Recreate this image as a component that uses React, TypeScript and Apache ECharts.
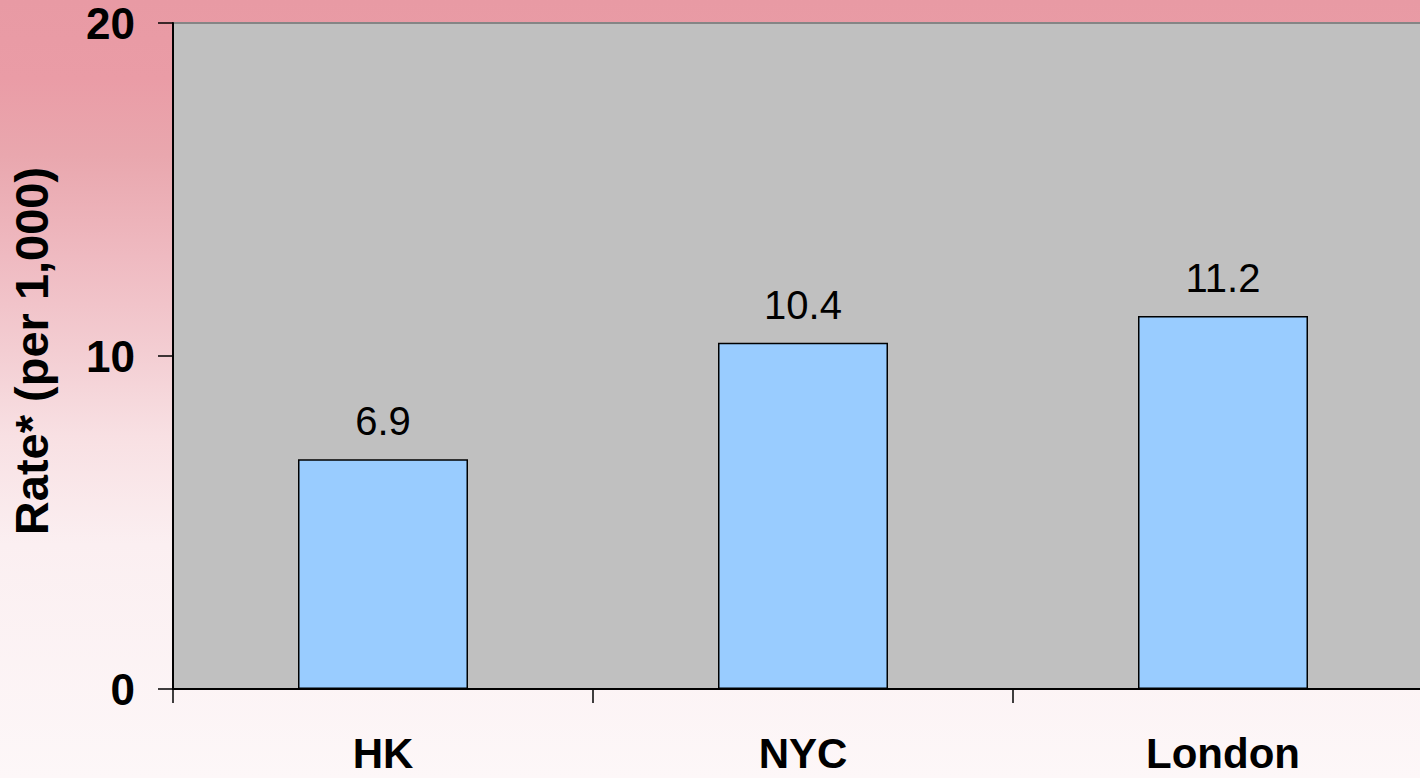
import React, { useEffect, useRef } from "react";
import * as echarts from "echarts";

const categories = ["HK", "NYC", "London"];
const rates = [6.9, 10.4, 11.2];
const yTicks = { min: 0, max: 20, interval: 10 };
const yTitle = "Rate* (per 1,000)";

const FONT = "'Liberation Sans', Arial, Helvetica, sans-serif";

export default function App() {
  const ref = useRef<HTMLDivElement>(null);
  useEffect(() => {
    document.body.style.margin = "0";
    document.body.style.overflow = "hidden";
    document.documentElement.style.overflow = "hidden";
    const chart = echarts.init(ref.current!, null, { renderer: "svg" });
    chart.setOption({
      animation: false,
      backgroundColor: {
        type: "linear",
        x: 0,
        y: 0,
        x2: 0,
        y2: 1,
        colorStops: [
          { offset: 0, color: "#e89aa4" },
          { offset: 0.1, color: "#ea9ca6" },
          { offset: 0.2, color: "#e9a7ae" },
          { offset: 0.33, color: "#efbac1" },
          { offset: 0.45, color: "#f3cdd2" },
          { offset: 0.56, color: "#f8e0e3" },
          { offset: 0.7, color: "#fbeff1" },
          { offset: 1, color: "#fdf7f8" },
        ],
      },
      grid: {
        left: 173,
        top: 23,
        width: 1260,
        height: 666,
        show: true,
        backgroundColor: "#c0c0c0",
        borderColor: "#858585",
        borderWidth: 2,
        containLabel: false,
      },
      xAxis: {
        type: "category",
        data: categories,
        axisLine: { show: true, lineStyle: { color: "#000", width: 2 } },
        axisTick: { show: true, length: 14, alignWithLabel: false, lineStyle: { color: "#000", width: 1.5 } },
        axisLabel: {
          color: "#000",
          fontFamily: FONT,
          fontWeight: "bold",
          fontSize: 42,
          lineHeight: 34,
          margin: 47,
        },
        splitLine: { show: false },
      },
      yAxis: {
        type: "value",
        min: yTicks.min,
        max: yTicks.max,
        interval: yTicks.interval,
        name: yTitle,
        nameLocation: "middle",
        nameGap: 118,
        nameRotate: 90,
        nameTextStyle: {
          color: "#000",
          fontFamily: FONT,
          fontWeight: "bold",
          fontSize: 47,
          padding: [0, 0, 0, 10],
        },
        axisLine: { show: true, lineStyle: { color: "#000", width: 2 } },
        axisTick: { show: true, length: 15, lineStyle: { color: "#000", width: 1.5 } },
        axisLabel: {
          color: "#000",
          fontFamily: FONT,
          fontWeight: "bold",
          fontSize: 44,
          margin: 38,
        },
        splitLine: { show: false },
      },
      series: [
        {
          type: "bar",
          data: rates,
          barWidth: 170,
          itemStyle: { color: "#99ccff", borderColor: "#000", borderWidth: 1.5 },
          label: {
            show: true,
            position: "top",
            distance: 18,
            color: "#000",
            fontFamily: FONT,
            fontSize: 40,
            formatter: (p: any) => p.value.toFixed(1),
          },
        },
      ],
    });
    return () => chart.dispose();
  }, []);
  return (
    <div
      ref={ref}
      style={{ position: "fixed", left: 0, top: 0, width: 1440, height: 778 }}
    />
  );
}
